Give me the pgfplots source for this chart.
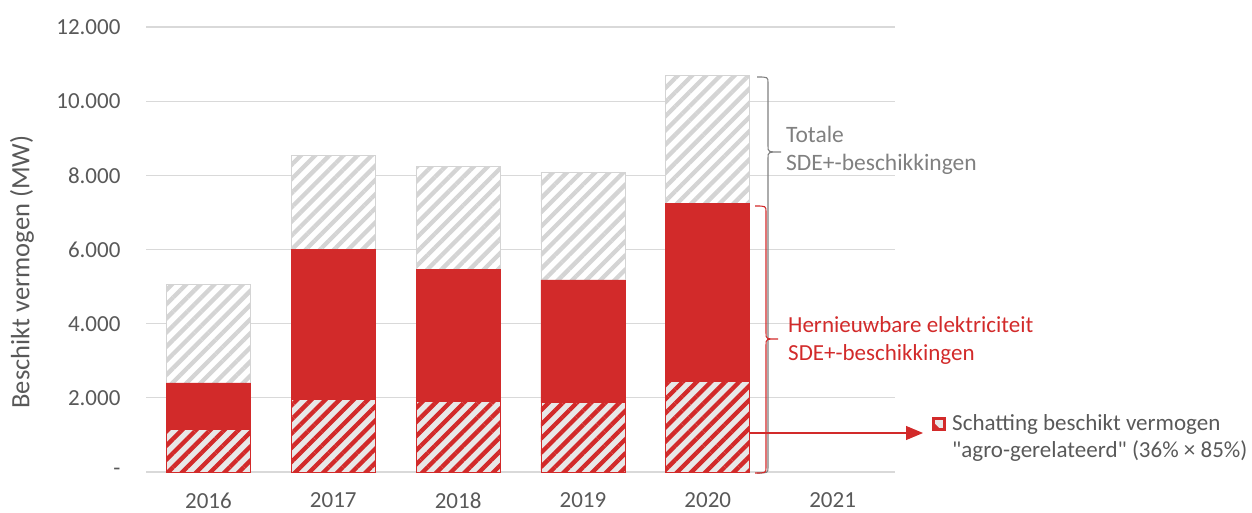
\documentclass[border=0pt]{standalone}
\usepackage{pgfplots}
\pgfplotsset{compat=1.18}
\usepackage{fontspec}
\setmainfont{Carlito}
\newfontfamily\plainfont{Carlito}
\usetikzlibrary{patterns.meta,arrows.meta}
\definecolor{redc}{RGB}{210,42,42}
\definecolor{gridc}{RGB}{217,217,217}
\definecolor{hatchc}{RGB}{212,212,212}
\definecolor{agrobg}{RGB}{232,232,232}
\definecolor{textc}{RGB}{89,89,89}
\definecolor{annc}{RGB}{128,128,128}
\pgfplotstableread{
x agro red grey
0 1150 1250 2660
1 1950 4050 2530
2 1900 3550 2800
3 1870 3310 2890
4 2450 4780 3460
}\datatab
\begin{document}
\begin{tikzpicture}
\useasboundingbox (0,0) rectangle (1252pt,513pt);
\begin{axis}[
  at={(146pt,41pt)}, anchor=south west,
  scale only axis, width=749pt, height=445pt,
  xmin=-0.5, xmax=5.5, ymin=0, ymax=12000,
  ybar stacked, bar width=84pt,
  axis line style={draw=none},
  major tick length=0pt,
  scaled y ticks=false,
  xtick={0,...,5}, xticklabels={2016,2017,2018,2019,2020,2021},
  ytick={0,2000,...,12000},
  yticklabels={-,2.000,4.000,6.000,8.000,10.000,12.000},
  ymajorgrids, grid style={gridc, line width=1.3pt},
  tick label style={font=\fontsize{23}{27}\selectfont, text=textc},
  xticklabel style={yshift=-17pt},
  yticklabel style={xshift=-22pt},
  clip=false, axis on top=false,
]
\addplot[draw=redc, line width=0.8pt, pattern={Lines[angle=45,distance=10pt,line width=4.3pt]}, pattern color=redc, preaction={fill=agrobg}] table[x=x,y=agro]{\datatab};
\addplot[draw=redc, fill=redc, line width=0.8pt] table[x=x,y=red]{\datatab};
\addplot[draw=hatchc, line width=0.8pt, pattern={Lines[angle=45,distance=10pt,line width=4.3pt]}, pattern color=hatchc, preaction={fill=white}] table[x=x,y=grey]{\datatab};
\end{axis}
% y label
\node[rotate=90, anchor=center, text=textc, font=\fontsize{26.5}{30}\selectfont, inner sep=0pt] at (22pt,241pt) {Beschikt vermogen (MW)};
% grey brace (total)
\draw[annc, line width=1.1pt] (757pt,436pt) .. controls (768pt,436pt) .. (768pt,430pt) -- (768pt,367pt) .. controls (768pt,361pt) .. (781pt,361pt) .. controls (768pt,361pt) .. (768pt,355pt) -- (768pt,46pt) .. controls (768pt,40pt) .. (757pt,40pt);
% red brace
\draw[redc, line width=1.1pt] (755pt,307pt) .. controls (766pt,307pt) .. (766pt,301pt) -- (766pt,180pt) .. controls (766pt,174pt) .. (778pt,174pt) .. controls (766pt,174pt) .. (766pt,168pt) -- (766pt,46pt) .. controls (766pt,40pt) .. (755pt,40pt);
\node[anchor=west, align=left, text=annc, font=\fontsize{23.5}{28}\selectfont, inner sep=0pt] at (786pt,363pt) {Totale\\SDE+-beschikkingen};
\node[anchor=west, align=left, text=redc, font=\fontsize{23}{28}\selectfont, inner sep=0pt] at (788pt,173pt) {Hernieuwbare elektriciteit\\SDE+-beschikkingen};
% arrow
\draw[redc, line width=1.1pt, -{Triangle[length=17pt,width=14pt]}] (750pt,80pt) -- (923pt,80pt);
% legend icon
\fill[agrobg] (932pt,82pt) rectangle (946pt,96pt);
\draw[redc, line width=3pt] (933.5pt,83.5pt) rectangle (944.5pt,94.5pt);
\fill[redc] (933pt,83pt) -- (941pt,83pt) -- (933pt,91pt) -- cycle;
\node[anchor=west, align=left, text=textc, font=\plainfont\fontsize{23}{27}\selectfont, inner sep=0pt] at (952pt,75.5pt) {Schatting beschikt vermogen\\"agro-gerelateerd" (36\% × 85\%)};
\end{tikzpicture}
\end{document}
